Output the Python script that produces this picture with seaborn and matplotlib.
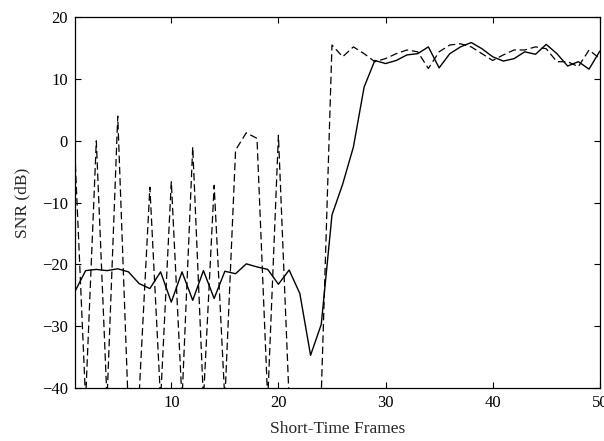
import numpy as np
import seaborn as sns
import matplotlib
matplotlib.use('Agg')
import matplotlib.pyplot as plt

frames = list(range(1, 51))

# solid curve
snr_solid = [-24.4, -21.0, -20.8, -21.0, -20.7, -21.2, -23.1, -23.9, -21.2, -26.1,
             -21.2, -25.8, -21.0, -25.5, -21.1, -21.5, -19.9, -20.4, -20.8, -23.2,
             -20.9, -24.7, -34.7, -29.7, -12.0, -7.0, -1.0, 8.7, 13.0, 12.5,
             13.0, 13.9, 14.1, 15.2, 11.8, 14.1, 15.2, 15.9, 14.9, 13.6,
             12.9, 13.3, 14.4, 14.0, 15.6, 14.1, 12.1, 12.8, 11.6, 14.5]

# dashed curve (drops below the -40 floor in the first half)
snr_dashed = [-2.0, -42.0, 0.0, -42.0, 4.0, -44.0, -41.0, -7.5, -42.0, -6.6,
              -42.0, -1.0, -42.0, -7.2, -42.0, -1.5, 1.3, 0.4, -42.0, 0.9,
              -42.0, -45.0, -45.0, -41.0, 15.5, 13.6, 15.2, 14.1, 12.8, 13.3,
              14.1, 14.7, 14.4, 11.7, 14.4, 15.5, 15.7, 15.2, 14.1, 13.0,
              13.9, 14.7, 14.7, 15.2, 14.9, 12.8, 12.8, 12.0, 14.7, 13.3]

x_ticks = [10, 20, 30, 40, 50]
y_ticks = [-40, -30, -20, -10, 0, 10, 20]


def plot_snr():
    sns.set_style('ticks')
    plt.rcParams['font.family'] = ['Liberation Serif', 'DejaVu Serif']

    fig = plt.figure(figsize=(6.04, 4.41), dpi=100)
    ax = fig.add_axes([0.124, 0.120, 0.869, 0.841])

    sns.lineplot(x=frames, y=snr_solid, ax=ax, color='black', linewidth=1.0)
    sns.lineplot(x=frames, y=snr_dashed, ax=ax, color='black', linewidth=0.9,
                 linestyle=(0, (6.0, 3.0)))

    ax.set_xlim(1, 50)
    ax.set_ylim(-40, 20)
    ax.set_xticks(x_ticks)
    ax.set_yticks(y_ticks)
    ax.tick_params(direction='in', length=4, width=0.8, top=True, right=True,
                   labelsize=12, colors='black', pad=5)
    for spine in ax.spines.values():
        spine.set_color('black')
        spine.set_linewidth(0.9)

    ax.set_xlabel('Short-Time Frames', fontsize=12.5, labelpad=7)
    ax.set_ylabel('SNR (dB)', fontsize=12.5, labelpad=8)

    fig.savefig('out.png', dpi=100)


def main():
    plot_snr()


if __name__ == '__main__':
    main()
